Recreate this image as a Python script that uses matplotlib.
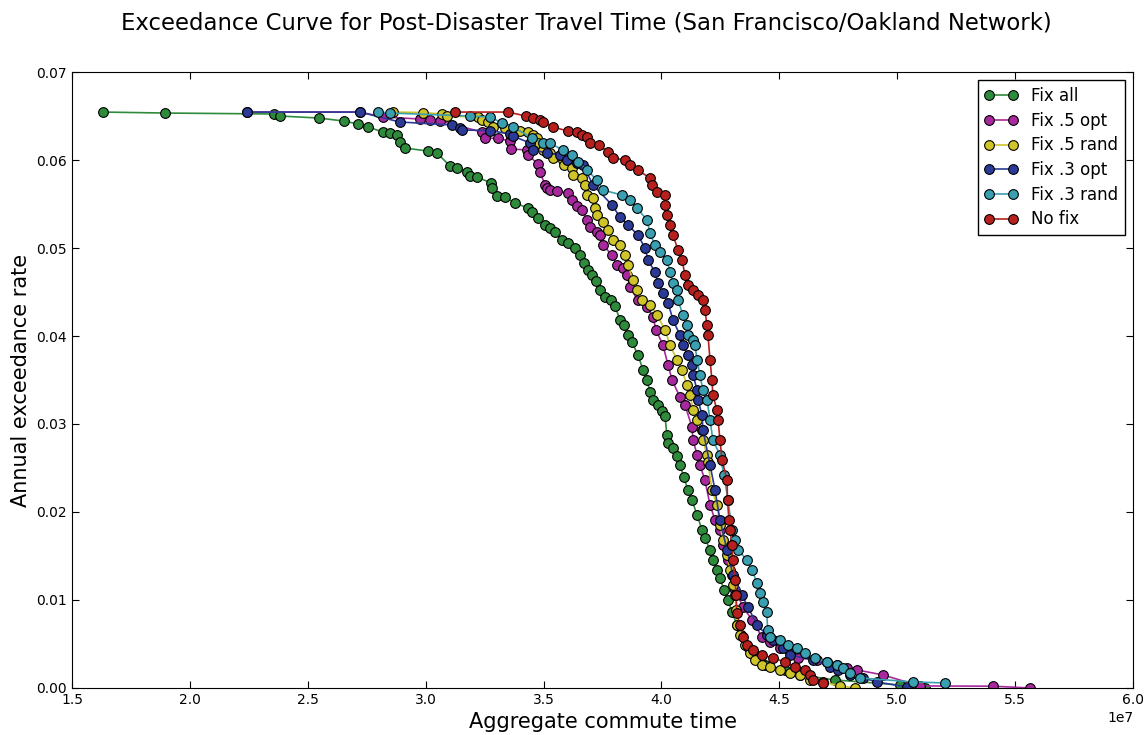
import numpy as np
import matplotlib
matplotlib.use('Agg')
import matplotlib.pyplot as plt

# commute time in units of 1e7, annual exceedance rate
fix_all_x = [1.631, 1.894, 2.357, 2.382, 2.547, 2.654, 2.713, 2.755, 2.819, 2.849, 2.878, 2.891, 2.912,
             3.010, 3.048, 3.103, 3.133, 3.175, 3.188, 3.218, 3.277, 3.280, 3.302, 3.336, 3.379, 3.434,
             3.451, 3.476, 3.506, 3.527, 3.548, 3.578, 3.603, 3.633, 3.654, 3.671, 3.688, 3.705, 3.722,
             3.739, 3.760, 3.786, 3.803, 3.824, 3.841, 3.858, 3.875, 3.900, 3.922, 3.939, 3.951, 3.964,
             3.985, 4.002, 4.015, 4.023, 4.028, 4.049, 4.066, 4.078, 4.095, 4.112, 4.129, 4.151, 4.172,
             4.184, 4.206, 4.218, 4.235, 4.248, 4.265, 4.282, 4.299, 4.320, 4.337, 4.367, 4.397, 4.439,
             4.524, 4.587, 4.736, 5.011, 5.118]
fix_all_y = [0.06545, 0.06534, 0.06523, 0.0650, 0.06477, 0.06443, 0.06409, 0.06375, 0.06318, 0.06307,
             0.06284, 0.06205, 0.06136, 0.06102, 0.0608, 0.05932, 0.05909, 0.05864, 0.05818, 0.05807,
             0.05739, 0.05682, 0.05591, 0.0558, 0.05511, 0.05455, 0.05409, 0.05341, 0.05261, 0.05227,
             0.05182, 0.05091, 0.05057, 0.05, 0.0492, 0.0483, 0.0475, 0.04693, 0.04625, 0.04523, 0.04443,
             0.04409, 0.04341, 0.04182, 0.04125, 0.04011, 0.03932, 0.03784, 0.03614, 0.035, 0.03364,
             0.03273, 0.03216, 0.03148, 0.03091, 0.02875, 0.02784, 0.02727, 0.02636, 0.02534, 0.02398,
             0.0225, 0.02136, 0.01966, 0.01795, 0.01705, 0.01568, 0.01455, 0.01341, 0.0125, 0.01114,
             0.01, 0.00864, 0.00716, 0.00602, 0.00466, 0.00375, 0.00261, 0.00205, 0.00148, 0.00091,
             0.00034, 0.0]

fix5_opt_x = [2.242, 2.721, 2.819, 2.976, 3.018, 3.061, 3.239, 3.251, 3.307, 3.358, 3.362, 3.430, 3.434,
              3.476, 3.485, 3.506, 3.514, 3.527, 3.557, 3.603, 3.620, 3.642, 3.663, 3.684, 3.697, 3.726,
              3.739, 3.752, 3.790, 3.811, 3.837, 3.854, 3.866, 3.900, 3.939, 3.964, 3.977, 4.006, 4.028,
              4.045, 4.078, 4.100, 4.129, 4.134, 4.151, 4.163, 4.184, 4.206, 4.227, 4.248, 4.261, 4.282,
              4.299, 4.312, 4.346, 4.384, 4.426, 4.460, 4.503, 4.545, 4.579, 4.659, 4.702, 4.744, 4.787,
              4.829, 4.939, 5.096, 5.406, 5.563]
fix5_opt_y = [0.06545, 0.06545, 0.06489, 0.06466, 0.06455, 0.06443, 0.06318, 0.0625, 0.06245, 0.06216,
              0.06125, 0.06114, 0.06057, 0.05955, 0.05864, 0.05716, 0.05682, 0.05659, 0.0565, 0.05625,
              0.05545, 0.05477, 0.05432, 0.05318, 0.05239, 0.05182, 0.05148, 0.05034, 0.0492, 0.04807,
              0.04773, 0.04693, 0.04557, 0.04409, 0.0433, 0.04216, 0.04068, 0.03898, 0.0367, 0.035,
              0.03307, 0.03216, 0.02966, 0.02818, 0.02648, 0.02534, 0.02364, 0.0208, 0.01909, 0.01795,
              0.01625, 0.01455, 0.01284, 0.01114, 0.0092, 0.00773, 0.0058, 0.00523, 0.00455, 0.00409,
              0.00341, 0.00318, 0.00295, 0.00261, 0.00227, 0.00205, 0.00148, 0.00023, 0.0002, 0.0]

fix5_rand_x = [2.861, 2.989, 3.069, 3.090, 3.222, 3.239, 3.264, 3.285, 3.336, 3.400, 3.434, 3.455, 3.472,
               3.476, 3.497, 3.527, 3.540, 3.582, 3.585, 3.620, 3.625, 3.663, 3.676, 3.684, 3.710, 3.718,
               3.726, 3.752, 3.773, 3.794, 3.824, 3.845, 3.858, 3.879, 3.896, 3.917, 3.951, 3.981, 4.015,
               4.036, 4.066, 4.087, 4.108, 4.121, 4.134, 4.151, 4.172, 4.176, 4.193, 4.197, 4.214, 4.235,
               4.248, 4.261, 4.278, 4.291, 4.303, 4.312, 4.316, 4.320, 4.333, 4.354, 4.375, 4.397, 4.426,
               4.460, 4.503, 4.545, 4.587, 4.630, 4.685, 4.757, 4.821]
fix5_rand_y = [0.06545, 0.0654, 0.06523, 0.0650, 0.06489, 0.06455, 0.06432, 0.06375, 0.06364, 0.0633,
               0.06318, 0.06284, 0.0625, 0.06193, 0.06114, 0.0608, 0.06023, 0.06, 0.05943, 0.05909,
               0.0583, 0.05795, 0.05716, 0.05602, 0.05568, 0.05455, 0.05375, 0.05295, 0.05205, 0.05091,
               0.05034, 0.0492, 0.04807, 0.04636, 0.04523, 0.04409, 0.04352, 0.04239, 0.04068, 0.03898,
               0.03727, 0.03614, 0.03443, 0.0333, 0.03159, 0.03045, 0.02932, 0.02818, 0.02648, 0.02568,
               0.0225, 0.0208, 0.01852, 0.01682, 0.01511, 0.01341, 0.0117, 0.01057, 0.00886, 0.00716,
               0.00602, 0.00489, 0.00398, 0.00318, 0.00261, 0.00239, 0.00205, 0.0017, 0.00148, 0.00091,
               0.00068, 0.00023, 0.0]

fix3_opt_x = [2.242, 2.721, 2.891, 3.112, 3.145, 3.154, 3.273, 3.358, 3.370, 3.442, 3.455, 3.514, 3.570,
              3.599, 3.642, 3.667, 3.710, 3.790, 3.824, 3.858, 3.900, 3.930, 3.943, 3.972, 3.985, 4.006,
              4.028, 4.049, 4.078, 4.091, 4.112, 4.129, 4.134, 4.151, 4.155, 4.172, 4.176, 4.206, 4.227,
              4.248, 4.278, 4.303, 4.341, 4.367, 4.405, 4.447, 4.473, 4.515, 4.545, 4.643, 4.715, 4.749,
              4.799, 4.855, 4.914, 5.041]
fix3_opt_y = [0.06545, 0.06545, 0.06432, 0.06398, 0.06364, 0.06341, 0.06335, 0.06295, 0.06273, 0.06193,
              0.06114, 0.0608, 0.06057, 0.06, 0.05966, 0.05943, 0.05716, 0.05489, 0.05352, 0.05261,
              0.05148, 0.05, 0.04864, 0.04727, 0.04602, 0.04489, 0.04375, 0.04182, 0.04011, 0.03898,
              0.03784, 0.0367, 0.03557, 0.03386, 0.03273, 0.03102, 0.02932, 0.02534, 0.0225, 0.01909,
              0.01568, 0.01284, 0.01057, 0.0092, 0.00716, 0.00602, 0.00545, 0.00455, 0.00375, 0.00318,
              0.00239, 0.00205, 0.00148, 0.00114, 0.00068, 0.00011]

fix3_rand_x = [2.798, 2.849, 3.188, 3.273, 3.324, 3.370, 3.451, 3.497, 3.527, 3.582, 3.620, 3.646, 3.684,
               3.726, 3.752, 3.832, 3.866, 3.896, 3.939, 3.951, 3.972, 3.994, 4.023, 4.036, 4.049, 4.066,
               4.070, 4.091, 4.108, 4.112, 4.134, 4.142, 4.151, 4.163, 4.176, 4.193, 4.206, 4.218, 4.248,
               4.265, 4.282, 4.299, 4.312, 4.324, 4.363, 4.384, 4.405, 4.418, 4.430, 4.447, 4.450, 4.460,
               4.503, 4.536, 4.575, 4.609, 4.651, 4.702, 4.744, 4.770, 4.799, 4.842, 5.067, 5.202]
fix3_rand_y = [0.06545, 0.06534, 0.065, 0.06489, 0.0642, 0.06375, 0.0625, 0.06193, 0.0619, 0.06114,
               0.06057, 0.05977, 0.05886, 0.05773, 0.05659, 0.05602, 0.05545, 0.05455, 0.05318, 0.0517,
               0.05034, 0.04955, 0.04864, 0.04727, 0.04602, 0.04523, 0.04409, 0.04239, 0.04125, 0.04011,
               0.03955, 0.03898, 0.03727, 0.03557, 0.03386, 0.03273, 0.03045, 0.02818, 0.02648, 0.0242,
               0.02136, 0.01795, 0.01682, 0.01568, 0.01455, 0.01341, 0.01193, 0.0108, 0.00977, 0.00864,
               0.00659, 0.0058, 0.00545, 0.00489, 0.00455, 0.00398, 0.00341, 0.00295, 0.00261, 0.00227,
               0.0017, 0.00114, 0.00068, 0.00057]

no_fix_x = [3.124, 3.349, 3.425, 3.455, 3.485, 3.497, 3.540, 3.603, 3.642, 3.663, 3.684, 3.697, 3.735,
            3.773, 3.794, 3.845, 3.866, 3.900, 3.951, 3.960, 3.981, 4.015, 4.017, 4.023, 4.036, 4.049,
            4.070, 4.087, 4.100, 4.112, 4.134, 4.155, 4.176, 4.184, 4.193, 4.197, 4.206, 4.214, 4.218,
            4.235, 4.240, 4.248, 4.257, 4.278, 4.280, 4.286, 4.291, 4.299, 4.303, 4.312, 4.316, 4.320,
            4.333, 4.346, 4.363, 4.388, 4.426, 4.473, 4.524, 4.566, 4.609, 4.630, 4.643, 4.685]
no_fix_y = [0.06545, 0.06545, 0.065, 0.06477, 0.06455, 0.06432, 0.06375, 0.0633, 0.06318, 0.06284,
            0.06261, 0.06193, 0.0617, 0.06091, 0.06023, 0.06, 0.05943, 0.05886, 0.05795, 0.05716,
            0.05636, 0.05602, 0.05489, 0.05375, 0.05261, 0.05148, 0.04977, 0.04864, 0.04693, 0.0458,
            0.04523, 0.04466, 0.04409, 0.04295, 0.04125, 0.04011, 0.03727, 0.035, 0.0333, 0.03159,
            0.03045, 0.02818, 0.02591, 0.02364, 0.02136, 0.01909, 0.01795, 0.01625, 0.01455, 0.01227,
            0.01057, 0.00852, 0.00716, 0.0058, 0.00489, 0.00432, 0.00375, 0.00341, 0.00295, 0.00239,
            0.00205, 0.00148, 0.00091, 0.00057]

labels = ['Fix all', 'Fix .5 opt', 'Fix .5 rand', 'Fix .3 opt', 'Fix .3 rand', 'No fix']
colors = ['#2e8b3c', '#a8299e', '#cfc52a', '#2a3a96', '#3a9fb0', '#b8201e']

series = [(fix_all_x, fix_all_y), (fix5_opt_x, fix5_opt_y), (fix5_rand_x, fix5_rand_y),
          (fix3_opt_x, fix3_opt_y), (fix3_rand_x, fix3_rand_y), (no_fix_x, no_fix_y)]

fig = plt.figure(figsize=(11.48, 7.35), dpi=100)
ax = fig.add_axes([0.0627, 0.064, 0.9243, 0.838])

for (xs, ys), lab, c in zip(series, labels, colors):
    ax.plot(np.array(xs) * 1e7, ys, '-o', color=c, label=lab, markersize=7,
            markeredgecolor='black', markeredgewidth=0.8, linewidth=1.2)

ax.set_xlim(1.5e7, 6.0e7)
ax.set_ylim(0, 0.07)
ax.set_xticks(np.arange(1.5e7, 6.01e7, 0.5e7))
ax.set_yticks(np.arange(0, 0.0701, 0.01))
ax.tick_params(direction='in', top=True, right=True, length=5, labelsize=10)
ax.xaxis.get_offset_text().set_fontsize(10)

ax.set_xlabel('Aggregate commute time', fontsize=15)
ax.set_ylabel('Annual exceedance rate', fontsize=15)
fig.suptitle('Exceedance Curve for Post-Disaster Travel Time (San Francisco/Oakland Network)',
             fontsize=16.4, x=0.5105, y=0.985)

leg = ax.legend(loc='upper right', numpoints=2, fontsize=12, fancybox=False, framealpha=1,
                labelspacing=0.4)
leg.get_frame().set_edgecolor('black')

plt.savefig('out.png', dpi=100)
